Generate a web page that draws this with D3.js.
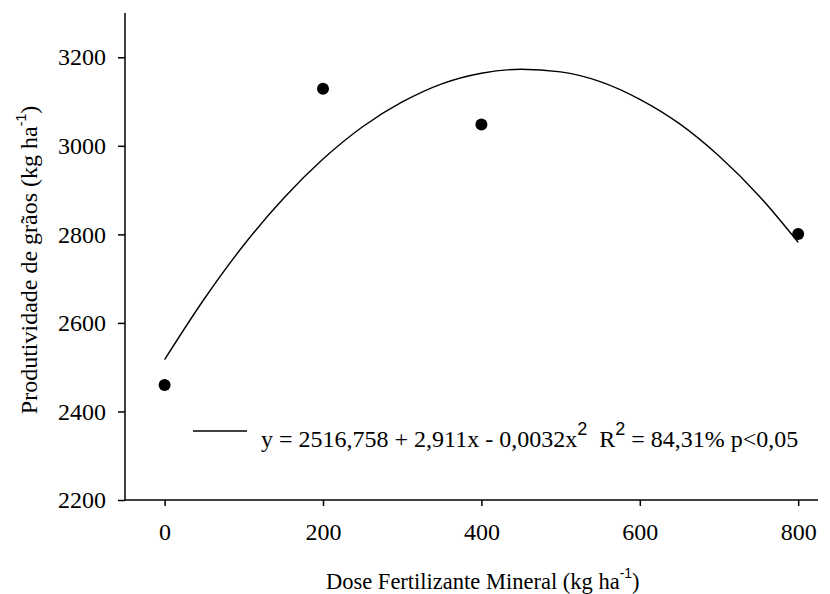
<!DOCTYPE html>
<html>
<head>
<meta charset="utf-8">
<script src="https://cdn.jsdelivr.net/npm/d3@7"></script>
<style>
  body { margin: 0; background: #fff; }
</style>
</head>
<body>
<svg id="chart" width="830" height="594"></svg>
<script>
// observed yields
const doses = [0, 200, 400, 800];
const yields = [2460, 3129, 3048, 2801];

// fitted curve, every 50 kg/ha
const fitDoses = [0, 50, 100, 150, 200, 250, 300, 350, 400, 450, 500, 550, 600, 650, 700, 750, 800];
const fitYields = [2517, 2654, 2776, 2881, 2970, 3043, 3099, 3140, 3164, 3173, 3167, 3145, 3105, 3050, 2977, 2888, 2782];

const xTicks = [0, 200, 400, 600, 800];
const yTicks = [2200, 2400, 2600, 2800, 3000, 3200];

const serif = "'Liberation Serif', 'Times New Roman', serif";
const sans = "'Liberation Sans', Arial, sans-serif";

const svg = d3.select("#chart");
const plotL = 125, plotR = 818, plotT = 13, plotB = 500;

let x = d3.scaleLinear().domain([-50, 825]).range([plotL, plotR]);
let y = d3.scaleLinear().domain([2200, 3300]).range([plotB, plotT]);

function styleAxis(g) {
    g.selectAll("path, line").attr("stroke", "#000").attr("stroke-width", 1.5);
    g.selectAll("text").style("font-family", serif).style("font-size", "24px").attr("fill", "#000");
}

svg.append("g")
    .attr("transform", "translate(0," + plotB + ")")
    .call(d3.axisBottom(x).tickValues(xTicks).tickFormat(d3.format("d")).tickSize(6).tickPadding(17).tickSizeOuter(0))
    .call(g => g.select(".domain").attr("d", "M" + plotL + ",0H" + plotR))
    .call(styleAxis);

svg.append("g")
    .attr("transform", "translate(" + plotL + ",0)")
    .call(d3.axisLeft(y).tickValues(yTicks).tickFormat(d3.format("d")).tickSize(7).tickPadding(12).tickSizeOuter(0))
    .call(g => g.select(".domain").attr("d", "M0," + plotT + "V" + plotB))
    .call(styleAxis);

// fitted line
let fit = fitDoses.map((d, i) => [d, fitYields[i]]);
svg.append("path")
    .datum(fit)
    .attr("fill", "none")
    .attr("stroke", "#000")
    .attr("stroke-width", 1.4)
    .attr("d", d3.line().x(d => x(d[0])).y(d => y(d[1])).curve(d3.curveMonotoneX));

// points
svg.selectAll("circle.pt").data(doses)
    .enter()
    .append("circle")
    .attr("class", "pt")
    .attr("cx", d => x(d))
    .attr("cy", (d, i) => y(yields[i]))
    .attr("r", 6)
    .attr("fill", "#000");

// legend
svg.append("line")
    .attr("x1", 193).attr("x2", 247)
    .attr("y1", 431).attr("y2", 431)
    .attr("stroke", "#000").attr("stroke-width", 1.5);

let leg = svg.append("text")
    .attr("x", 261)
    .attr("y", 447)
    .style("font-family", serif)
    .style("font-size", "24px");
leg.append("tspan").text("y = 2516,758 + 2,911x - 0,0032x");
leg.append("tspan").attr("dy", -12).style("font-family", sans).style("font-size", "18px").text("2");
leg.append("tspan").attr("dy", 12).text("\u00a0 R");
leg.append("tspan").attr("dy", -12).style("font-family", sans).style("font-size", "18px").text("2");
leg.append("tspan").attr("dy", 12).text(" = 84,31% p<0,05");

// axis titles
let xt = svg.append("text")
    .attr("x", 326)
    .attr("y", 589)
    .style("font-family", serif)
    .style("font-size", "22.5px");
xt.append("tspan").text("Dose Fertilizante Mineral (kg ha");
xt.append("tspan").attr("dy", -11).style("font-family", sans).style("font-size", "14px").text("-1");
xt.append("tspan").attr("dy", 11).text(")");

let yt = svg.append("text")
    .attr("transform", "translate(37,260) rotate(-90)")
    .attr("text-anchor", "middle")
    .style("font-family", serif)
    .style("font-size", "24px");
yt.append("tspan").text("Produtividade de grãos (kg ha");
yt.append("tspan").attr("dy", -11).style("font-family", sans).style("font-size", "14px").text("-1");
yt.append("tspan").attr("dy", 11).text(")");
</script>
</body>
</html>
